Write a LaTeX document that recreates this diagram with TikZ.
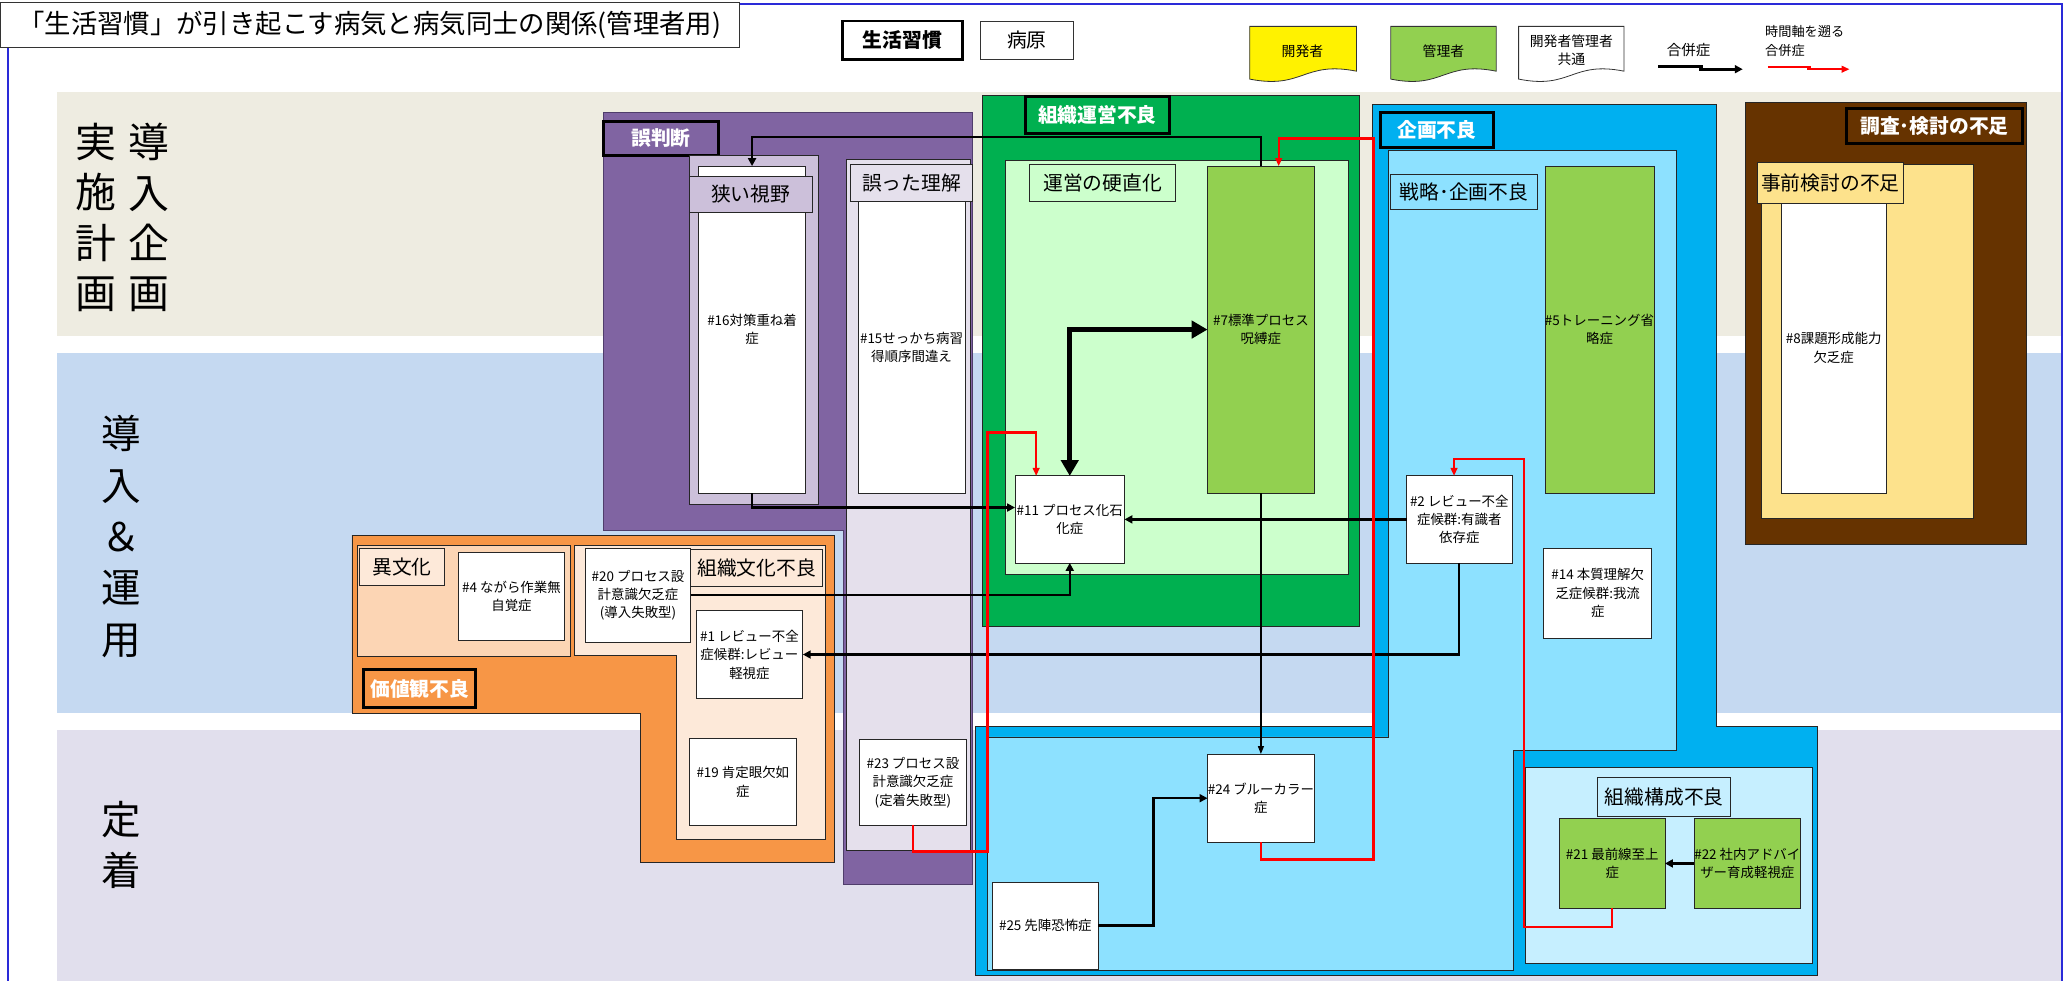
\documentclass[tikz,border=0pt]{standalone}
\usepackage{fontspec}
\setmainfont{Noto Sans CJK JP}
\usetikzlibrary{arrows.meta}
\definecolor{bandA}{HTML}{EEECE1}
\definecolor{bandB}{HTML}{C5D9F1}
\definecolor{bandC}{HTML}{E1DFED}
\definecolor{frameblue}{HTML}{2A2AD8}
\definecolor{purp}{HTML}{8064A2}
\definecolor{purpdk}{HTML}{4F3D6B}
\definecolor{purplt}{HTML}{CCC0DA}
\definecolor{lav}{HTML}{E5E0EC}
\definecolor{orng}{HTML}{F79646}
\definecolor{peach}{HTML}{FCD5B4}
\definecolor{peachlt}{HTML}{FDE9D9}
\definecolor{grn}{HTML}{00B050}
\definecolor{grnlt}{HTML}{CCFFCC}
\definecolor{grnmid}{HTML}{92D050}
\definecolor{cyn}{HTML}{00B0F0}
\definecolor{cynlt}{HTML}{8DE1FF}
\definecolor{cynpale}{HTML}{C6EFFF}
\definecolor{brwn}{HTML}{663300}
\definecolor{gold}{HTML}{FDE28C}
\definecolor{redline}{HTML}{FF0000}
\newcommand{\fsz}[2]{\fontsize{#1pt}{#2pt}\selectfont}
\newcommand{\bx}[7]{\node[#1,anchor=north west,minimum width={(#5-#3)*1pt},minimum height={(#6-#4)*1pt}] (#2) at (#3,#4) {#7};}
\newcommand{\docshape}[3]{\draw[draw=black!80,line width=0.6pt,fill=#3] (#1,20) -- (#2,20) -- (#2,54) .. controls ({(#1+#2)/2},46) and ({(#1+#2)/2},68) .. (#1,60) -- cycle;}
\tikzset{
 base/.style={inner sep=0pt,outer sep=0pt,align=center},
 dis/.style={base,draw=black!85,line width=0.6pt,fill=white,font=\fsz{10.2}{14}},
 grp/.style={base,draw=black!85,line width=0.6pt,font=\fsz{15}{18}},
 hdr/.style={base,draw=black,line width=2.2pt,text=white,font=\fsz{15}{18}\bfseries},
 area/.style={draw=black!85,line width=0.6pt},
 conn/.style={line width=1.8pt,-{Triangle[length=6pt,width=6pt]}},
 thinconn/.style={line width=1pt,-{Triangle[length=6pt,width=4.5pt]}},
 redconn/.style={draw=redline,line width=1.8pt,-{Triangle[length=6pt,width=5pt]}},
 bigconn/.style={line width=4pt,{Triangle[length=12pt,width=13pt]}-{Triangle[length=12pt,width=13pt]}},
}
\begin{document}
\begin{tikzpicture}[x=1pt,y=-1pt]
\useasboundingbox (0,0) rectangle (1568,744);
% bands
\fill[bandA] (43,70) rectangle (1564,255);
\fill[bandB] (43,268) rectangle (1564,541);
\fill[bandC] (43,554) rectangle (1564,744);
% frame
\draw[frameblue,line width=1.2pt] (6,36) -- (6,744);
\draw[frameblue,line width=1.2pt] (561,3) -- (1564,3) -- (1564,744);
% title
\bx{base,draw=black!80,line width=0.6pt,fill=white,font=\fsz{20}{24}}{title}{0}{2}{561}{36}{「生活習慣」が引き起こす病気と病気同士の関係(管理者用)}
% phase labels
\node[base,font=\fsz{31}{38}] (ph1a) at (73,165) {実\\施\\計\\画};
\node[base,font=\fsz{31}{38}] (ph1b) at (113,165) {導\\入\\企\\画};
\node[base,font=\fsz{30}{39}] (ph2) at (92,407) {導\\入\\＆\\運\\用};
\node[base,font=\fsz{30}{39}] (ph3) at (92,641) {定\\着};
% legend
\bx{base,draw=black,line width=2pt,fill=white,font=\fsz{15}{18}\bfseries}{lgA}{639}{16}{730}{45}{生活習慣}
\bx{base,draw=black!80,line width=0.6pt,fill=white,font=\fsz{15}{18}}{lgB}{744}{16}{814}{45}{病原}
\docshape{948}{1029}{yellow}
\docshape{1055}{1135}{grnmid}
\docshape{1152}{1232}{white}
\node[base,font=\fsz{10.5}{14}] (lgY) at (988,39) {開発者};
\node[base,font=\fsz{10.5}{14}] (lgG) at (1095,39) {管理者};
\node[base,font=\fsz{10.5}{14}] (lgW) at (1192,38) {開発者管理者\\共通};
\node[base,font=\fsz{11}{14}] (lgC) at (1281,38) {合併症};
\node[base,font=\fsz{10}{14},anchor=west,align=left] (lgR) at (1339,31) {時間軸を遡る\\合併症};
\coordinate (lk1) at (1258,50.5);
\coordinate (lk2) at (1292,50.5);
\coordinate (lk3) at (1289,52.5);
\coordinate (lk4) at (1322,52.5);
\draw[line width=2pt] (lk1) -- (lk2);
\draw[line width=2pt,-{Triangle[length=6pt,width=6pt]}] (lk3) -- (lk4);
\coordinate (lr1) at (1341,50.5);
\coordinate (lr2) at (1374,50.5);
\coordinate (lr3) at (1371,52.5);
\coordinate (lr4) at (1403,52.5);
\draw[redline,line width=1.6pt] (lr1) -- (lr2);
\draw[redline,line width=1.6pt,-{Triangle[length=6pt,width=5pt]}] (lr3) -- (lr4);
% purple group
\draw[area,draw=purpdk,fill=purp] (458,85) -- (738,85) -- (738,671) -- (640,671) -- (640,402) -- (458,402) -- cycle;
\bx{hdr,fill=purp}{gHan}{458}{92}{545}{118}{誤判断}
\bx{grp,fill=purplt}{gNarrow}{523}{118}{621}{383}{}
\bx{dis}{n16}{530}{126}{611}{374}{\#16対策重ね着\\症}
\bx{grp,fill=purplt}{lNarrow}{523}{134}{616}{161}{狭い視野}
\bx{grp,fill=lav}{gMis}{642}{121}{736}{645}{}
\bx{grp,fill=lav}{lMis}{645}{125}{738}{153}{誤った理解}
\bx{dis}{n15}{651}{153}{732}{374}{\#15せっかち病習\\得順序間違え}
\bx{dis}{n23}{652}{561}{733}{626}{\#23 プロセス設\\計意識欠乏症\\(定着失敗型)}
% orange group
\draw[area,fill=orng] (267,406) -- (633,406) -- (633,654) -- (486,654) -- (486,541) -- (267,541) -- cycle;
\bx{grp,fill=peach}{gCult}{271}{414}{433}{498}{}
\bx{grp,fill=peachlt}{lCult}{273}{416}{337}{444}{異文化}
\bx{dis}{n4}{348}{419}{428}{486}{\#4 ながら作業無\\自覚症}
\draw[area,fill=peachlt] (436,414) -- (626,414) -- (626,637) -- (513,637) -- (513,497) -- (436,497) -- cycle;
\bx{grp,fill=peachlt}{lOrg}{524}{417}{624}{445}{組織文化不良}
\bx{dis}{n20}{444}{416}{524}{487}{\#20 プロセス設\\計意識欠乏症\\(導入失敗型)}
\bx{dis}{n1}{528}{463}{609}{530}{\#1 レビュー不全\\症候群:レビュー\\軽視症}
\bx{dis}{n19}{523}{560}{604}{626}{\#19 肯定眼欠如\\症}
\bx{hdr,fill=orng}{hVal}{276}{508}{361}{537}{価値観不良}
% green group
\draw[area,fill=grn] (745,72) rectangle (1031,475);
\bx{hdr,fill=grn}{hOrg}{778}{73}{887}{101}{組織運営不良}
\draw[area,fill=grnlt] (763,122) rectangle (1023,436);
\bx{grp,fill=grnlt}{lRig}{781}{125}{892}{153}{運営の硬直化}
\bx{dis,fill=grnmid}{n7}{916}{126}{997}{374}{\#7標準プロセス\\呪縛症}
\bx{dis}{n11}{770}{361}{853}{427}{\#11 プロセス化石\\化症}
% cyan group
\draw[area,fill=cyn] (1041,79) -- (1302,79) -- (1302,551) -- (1379,551) -- (1379,740) -- (740,740) -- (740,551) -- (1041,551) -- cycle;
\bx{hdr,fill=cyn}{hPlan}{1047}{85}{1133}{112}{企画不良}
\draw[area,fill=cynlt] (1053,114) -- (1272,114) -- (1272,569) -- (1148,569) -- (1148,736) -- (749,736) -- (749,559) -- (1053,559) -- cycle;
\bx{grp,fill=cynlt}{lStr}{1055}{132}{1166}{159}{戦略･企画不良}
\bx{dis,fill=grnmid}{n5}{1172}{126}{1252}{374}{\#5トレーニング省\\略症}
\bx{dis}{n2}{1067}{361}{1147}{427}{\#2 レビュー不全\\症候群:有識者\\依存症}
\bx{dis}{n14}{1171}{416}{1253}{484}{\#14 本質理解欠\\乏症候群:我流\\症}
\draw[area,fill=cynpale] (1157,582) rectangle (1375,731);
\bx{grp,fill=cynpale}{lStruct}{1212}{590}{1313}{619}{組織構成不良}
\bx{dis,fill=grnmid}{n21}{1183}{621}{1263}{689}{\#21 最前線至上\\症}
\bx{dis,fill=grnmid}{n22}{1285}{621}{1366}{689}{\#22 社内アドバイ\\ザー育成軽視症}
\bx{dis}{n24}{916}{572}{997}{639}{\#24 ブルーカラー\\症}
\bx{dis}{n25}{753}{669}{833}{735}{\#25 先陣恐怖症}
% brown group
\draw[area,fill=brwn] (1324,78) rectangle (1537,413);
\bx{hdr,fill=brwn}{hRes}{1401}{82}{1534}{109}{調査･検討の不足}
\draw[area,fill=gold] (1336,125) rectangle (1497,393);
\bx{dis}{n8}{1351}{154}{1431}{374}{\#8課題形成能力\\欠乏症}
\bx{grp,fill=gold}{lPre}{1333}{123}{1444}{154}{事前検討の不足}
% black connectors
\coordinate (ya) at (0,104);
\draw[conn] (n7.north) -- (n7.north |- ya) -| (n16.north);
\coordinate (yb) at (0,385);
\draw[conn] (n16.south) -- (n16.south |- yb) -- (n11.west |- yb);
\draw[conn] (n20.east) -| (n11.south);
\draw[bigconn] (n7.west) -| (n11.north);
\draw[conn] (n2.west) -- (n11.east);
\draw[conn] (n2.south) |- (n1.east);
\draw[thinconn] (n7.south) -- (n24.north);
\coordinate (xh) at (875,0);
\draw[conn] (n25.east) -- (n25.east -| xh) |- (n24.west);
\draw[conn] (n22.west) -- (n21.east);
% red connectors
\coordinate (r1a) at (749,646);
\coordinate (r1b) at (786,328);
\draw[redconn] (n23.south) |- (r1a) |- (r1b) -- (r1b |- n11.north);
\coordinate (r2a) at (1042,652);
\coordinate (r2b) at (970,105);
\draw[redconn] (n24.south) |- (r2a) |- (r2b) -- (r2b |- n7.north);
\coordinate (r3a) at (1156,703);
\coordinate (r3b) at (1103,348);
\draw[redconn] (n21.south) |- (r3a) |- (r3b) -- (r3b |- n2.north);
\end{tikzpicture}
\end{document}
